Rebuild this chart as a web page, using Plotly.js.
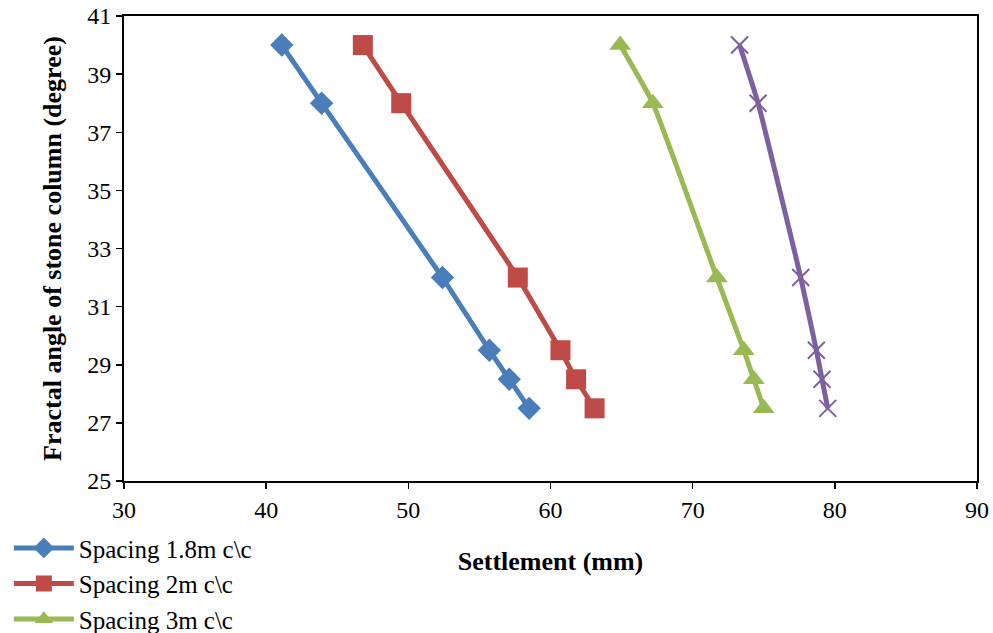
<!DOCTYPE html>
<html>
<head>
<meta charset="utf-8">
<script src="https://cdn.plot.ly/plotly-3.0.1.min.js"></script>
<style>html,body{margin:0;padding:0;background:#fff;}#chart{width:993px;height:633px;}</style>
</head>
<body>
<div id="chart"></div>
<script>
const angle = [40, 38, 32, 29.5, 28.5, 27.5];
const settle18 = [41.1, 43.9, 52.4, 55.7, 57.1, 58.5];
const settle2 = [46.8, 49.5, 57.7, 60.7, 61.8, 63.1];
const settle3 = [64.9, 67.2, 71.7, 73.6, 74.3, 75.0];
const settle4 = [73.3, 74.6, 77.6, 78.7, 79.1, 79.5];
const names = ["Spacing 1.8m c\\c", "Spacing 2m c\\c", "Spacing 3m c\\c", "Spacing 4m c\\c"];
const xTicks = [30, 40, 50, 60, 70, 80, 90];
const yTicks = [25, 27, 29, 31, 33, 35, 37, 39, 41];

const series = [settle18, settle2, settle3, settle4];
const colors = ["#4a7ebb", "#be4b48", "#98b954", "#7d60a0"];
const symbols = ["diamond", "square", "triangle-up", "x-thin"];
const msizes = [18, 20, 19, 17];

const traces = series.map((s, i) => ({
  x: s, y: angle, name: names[i], type: "scatter", mode: "lines+markers",
  showlegend: i < 3,
  line: {color: colors[i], width: 5, shape: "spline", smoothing: 0.4},
  marker: {color: colors[i], symbol: symbols[i], size: msizes[i],
           line: {color: colors[i], width: i === 3 ? 2 : 0}}
}));

const layout = {
  width: 993, height: 633,
  margin: {l: 124, r: 16, t: 16, b: 152, autoexpand: false},
  paper_bgcolor: "#fff", plot_bgcolor: "#fff",
  font: {family: "Liberation Serif, Times New Roman, serif", color: "#000"},
  xaxis: {
    range: [30, 90], tickvals: xTicks, ticktext: xTicks.map(String),
    showgrid: false, zeroline: false, showline: true, linecolor: "#000", linewidth: 2,
    mirror: true, ticks: "outside", ticklen: 6, tickwidth: 1.5, tickcolor: "#000",
    tickfont: {size: 24}, automargin: false,
    title: {text: "<b>Settlement (mm)</b>", font: {size: 26}}
  },
  yaxis: {
    range: [25, 41], tickvals: yTicks, ticktext: yTicks.map(String),
    showgrid: false, zeroline: false, showline: true, linecolor: "#000", linewidth: 2,
    mirror: true, ticks: "outside", ticklen: 6, tickwidth: 1.5, tickcolor: "#000",
    tickfont: {size: 24}, automargin: false,
    title: {text: "<b>Fractal angle of stone column (degree)</b>", font: {size: 26}}
  },
  legend: {
    xref: "paper", yref: "paper",
    x: -0.135, y: -0.095, xanchor: "left", yanchor: "top",
    font: {size: 25}, bgcolor: "rgba(0,0,0,0)", tracegroupgap: 0, itemwidth: 60
  }
};

Plotly.newPlot("chart", traces, layout, {displayModeBar: false, staticPlot: true});
</script>
</body>
</html>
